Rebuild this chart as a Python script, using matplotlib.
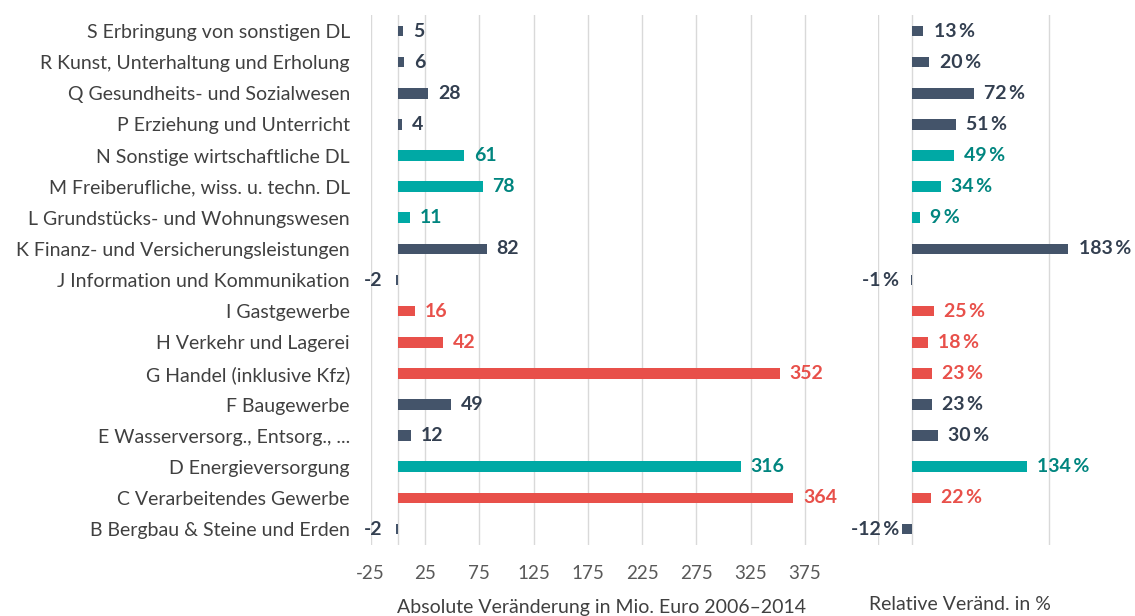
import matplotlib.pyplot as plt
import numpy as np

# Wirtschaftszweige, von unten (B) nach oben (S)
categories = [
    "B Bergbau & Steine und Erden",
    "C Verarbeitendes Gewerbe",
    "D Energieversorgung",
    "E Wasserversorg., Entsorg., ...",
    "F Baugewerbe",
    "G Handel (inklusive Kfz)",
    "H Verkehr und Lagerei",
    "I Gastgewerbe",
    "J Information und Kommunikation",
    "K Finanz- und Versicherungsleistungen",
    "L Grundstücks- und Wohnungswesen",
    "M Freiberufliche, wiss. u. techn. DL",
    "N Sonstige wirtschaftliche DL",
    "P Erziehung und Unterricht",
    "Q Gesundheits- und Sozialwesen",
    "R Kunst, Unterhaltung und Erholung",
    "S Erbringung von sonstigen DL",
]
abs_change = [-2, 364, 316, 12, 49, 352, 42, 16, -2, 82, 11, 78, 61, 4, 28, 6, 5]
rel_change = [-12, 22, 134, 30, 23, 23, 18, 25, -1, 183, 9, 34, 49, 51, 72, 20, 13]
groups = ["navy", "red", "teal", "navy", "navy", "red", "red", "red", "navy",
          "navy", "teal", "teal", "teal", "navy", "navy", "navy", "navy"]
abs_ticks = [-25, 25, 75, 125, 175, 225, 275, 325, 375]

bar_colors = {"navy": "#44546A", "red": "#E8504A", "teal": "#00A9A5"}
text_colors = {"navy": "#333F50", "red": "#E8504A", "teal": "#00857F"}

plt.rcParams['font.family'] = ['Lato', 'DejaVu Sans']

fig = plt.figure(figsize=(11.35, 6.16), dpi=100)
ax1 = fig.add_axes([0.3266, 0.1159, 0.4066, 0.859])
ax2 = fig.add_axes([0.7736, 0.1159, 0.2264, 0.859])

y = np.arange(len(categories))
grid_col = "#D9D9D9"
val_fs = 14

# linke Seite: absolute Veränderung
ax1.barh(y, abs_change, height=0.34, color=[bar_colors[g] for g in groups], zorder=3)
ax1.set_xlim(-25, 400)
ax1.set_ylim(-0.5, len(categories) - 0.5)
ax1.set_xticks(abs_ticks)
ax1.set_xticklabels([str(t) for t in abs_ticks], fontsize=13.5, color="#595959")
ax1.set_yticks(y)
ax1.set_yticklabels(categories, fontsize=14, color="#404040")
ax1.tick_params(axis='y', length=0, pad=15)
ax1.tick_params(axis='x', length=0, pad=15)
ax1.xaxis.grid(True, color=grid_col, linewidth=1, zorder=0)
ax1.axvline(0, color=grid_col, linewidth=1, zorder=1)
for s in ax1.spines.values():
    s.set_visible(False)
ax1.set_xlabel("Absolute Veränderung in Mio. Euro 2006\u20132014", fontsize=14,
               color="#404040", labelpad=12)

for yi, v, g in zip(y, abs_change, groups):
    if v < 0:
        ax1.text(v - 12, yi, str(v), ha='right', va='center', fontsize=val_fs,
                 fontweight='bold', color=text_colors[g])
    else:
        ax1.text(v + 9, yi, str(v), ha='left', va='center', fontsize=val_fs,
                 fontweight='bold', color=text_colors[g])

# rechte Seite: relative Veränderung
ax2.barh(y, rel_change, height=0.34, color=[bar_colors[g] for g in groups], zorder=3)
ax2.set_xlim(-40, 261)
ax2.set_ylim(-0.5, len(categories) - 0.5)
ax2.set_xticks([-40, 160])
ax2.set_xticklabels([])
ax2.set_yticks([])
ax2.tick_params(axis='x', length=0)
ax2.xaxis.grid(True, color=grid_col, linewidth=1, zorder=0)
ax2.axvline(0, color=grid_col, linewidth=1, zorder=1)
for s in ax2.spines.values():
    s.set_visible(False)

for yi, v, g in zip(y, rel_change, groups):
    lab = f"{v}\u2009%"
    if v < 0:
        ax2.text(min(v - 1, -15), yi, lab, ha='right', va='center', fontsize=val_fs,
                 fontweight='bold', color=text_colors[g])
    else:
        ax2.text(v + 12, yi, lab, ha='left', va='center', fontsize=val_fs,
                 fontweight='bold', color=text_colors[g])

fig.text(960 / 1135, 1 - 605 / 616, "Relative Veränd. in %", ha='center', va='center',
         fontsize=14, color="#404040")

fig.savefig("out.png", dpi=100)
